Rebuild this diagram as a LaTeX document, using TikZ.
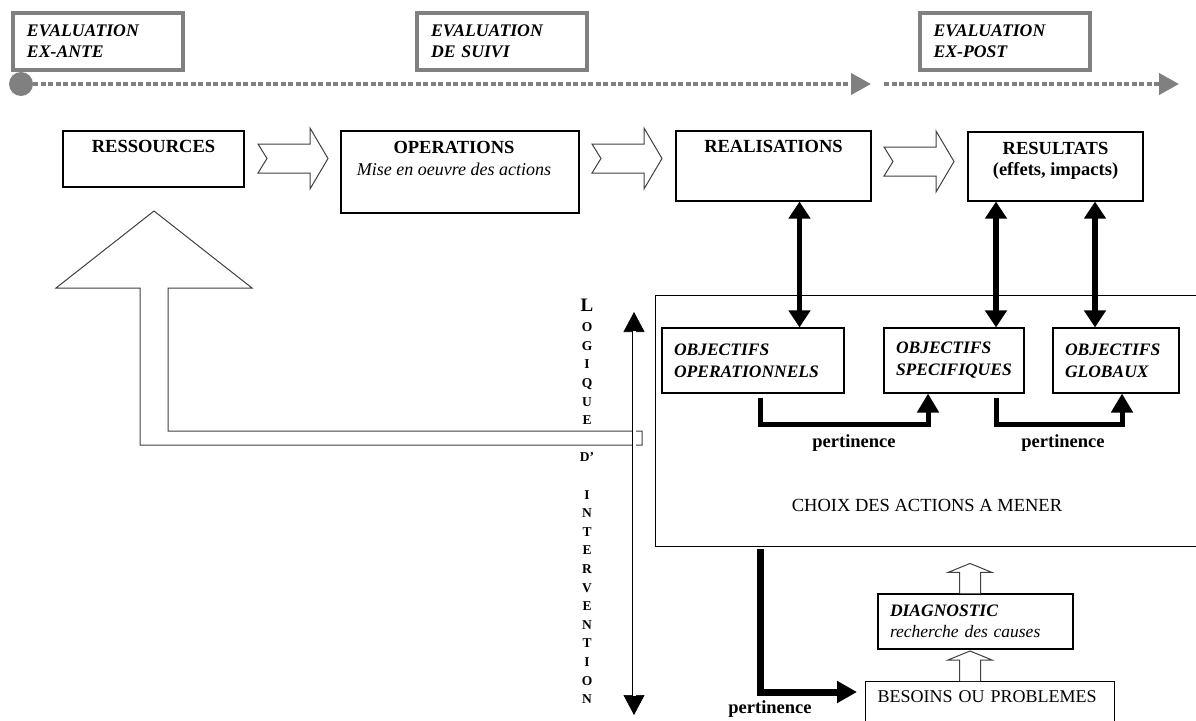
\documentclass[tikz,border=0pt]{standalone}
\usepackage{fontspec}
\setmainfont{Liberation Serif}
\usetikzlibrary{positioning,arrows.meta}
\definecolor{gris}{HTML}{808080}

\begin{document}
\begin{tikzpicture}[
  x=1pt, y=-1pt,
  txt/.style={inner sep=0pt, font=\fontsize{18}{22}\selectfont},
  evalbox/.style={draw=gris, line width=4pt, align=left, text width=142pt, inner xsep=14pt, minimum height=57pt, font=\fontsize{17.7}{21}\selectfont\bfseries\itshape},
  boite/.style={draw, line width=1.1pt},
  objbox/.style={boite, align=left, inner xsep=12pt, minimum height=65pt, font=\fontsize{17.5}{22}\selectfont\bfseries\itshape},
  noire/.style={line width=5.5pt, {Triangle[length=17pt,width=21pt]}-{Triangle[length=17pt,width=21pt]}},
  coude/.style={line width=5pt, -{Triangle[length=19pt,width=21pt]}},
  pointille/.style={draw=gris, line width=4pt, dash pattern=on 5pt off 2.5pt, -{Triangle[length=20pt,width=21pt]}},
  creux/.style={draw=black!75, line width=1pt, fill=white},
  chevron/.pic={\draw[creux] (0,0) -- (52,0) -- (52,-16) -- (70,14.5) -- (52,45) -- (52,29) -- (0,29) -- (9,14.5) -- cycle;},
  montee/.pic={\draw[creux] (-10.5,0) -- (-10.5,-21) -- (-22,-21) -- (0,-30) -- (22,-21) -- (10.5,-21) -- (10.5,0);}
]
  \useasboundingbox (0,0) rectangle (1196,720);

  \node[evalbox] (exante) at (98,41.5) {EVALUATION\\EX-ANTE};
  \node[evalbox] (suivi) at (502,41.5) {EVALUATION\\DE SUIVI};
  \node[evalbox] (expost) at (1004.5,41.5) {EVALUATION\\EX-POST};

  \node[circle, fill=gris, minimum size=24pt, inner sep=0pt] (debut) at (21,84) {};
  \coordinate (fin1) at (871,84);
  \coordinate (dep2) at (884,84);
  \coordinate (fin2) at (1179,84);
  \draw[pointille] (debut.east) -- (fin1);
  \draw[pointille] (dep2) -- (fin2);

  \node[boite, minimum width=181pt, minimum height=56pt] (ress) at (153.5,159) {};
  \node[boite, minimum width=238pt, minimum height=82pt] (oper) at (460,172) {};
  \node[boite, minimum width=195pt, minimum height=70pt] (real) at (773.5,166) {};
  \node[boite, minimum width=175pt, minimum height=69pt] (resu) at (1055.5,166.5) {};
  \node[txt, font=\fontsize{18.5}{22}\selectfont\bfseries, below=10pt of ress.north] (tress) {RESSOURCES};
  \node[txt, align=center, anchor=north] (toper) at (454,141) {{\fontsize{18.5}{22}\selectfont\bfseries OPERATIONS}\\{\itshape Mise en oeuvre des actions}};
  \node[txt, font=\fontsize{18.5}{22}\selectfont\bfseries, below=10pt of real.north] (treal) {REALISATIONS};
  \node[txt, font=\fontsize{18.5}{21}\selectfont\bfseries, align=center, below=11pt of resu.north] (tresu) {RESULTATS\\(effets, impacts)};

  \pic at (258,144) {chevron};
  \pic at (592,144) {chevron};
  \pic at (884,147) {chevron};

  \draw[creux] (642,431) -- (168,431) -- (168,288) -- (252,288) -- (154,211) -- (56,288) -- (140,288) -- (140,445) -- (642,445) -- cycle;

  \node[boite, anchor=north west, minimum width=580pt, minimum height=251pt, inner sep=0pt] (cadre) at (655,295) {};
  \node[txt, font=\fontsize{18.5}{22}\selectfont] (choix) at (927,505) {CHOIX DES ACTIONS A MENER};

  \node[objbox, text width=158pt] (objop) at (753,360.5) {OBJECTIFS\\OPERATIONNELS};
  \node[objbox, text width=116pt] (objspec) at (954,360.5) {OBJECTIFS\\SPECIFIQUES};
  \node[objbox, text width=102pt] (objglob) at (1116,360.5) {OBJECTIFS\\GLOBAUX};

  \draw[noire] ([xshift=26pt]real.south) -- ([xshift=26pt]real.south |- objop.north);
  \draw[noire] ([xshift=-59.5pt]resu.south) -- ([xshift=-59.5pt]resu.south |- objspec.north);
  \draw[noire] ([xshift=39.5pt]resu.south) -- ([xshift=39.5pt]resu.south |- objglob.north);

  \draw[coude] ([xshift=7pt,yshift=-4pt]objop.south) -- ++(0,27) -| ([xshift=-26pt]objspec.south);
  \draw[coude] ([xshift=42pt,yshift=-4pt]objspec.south) -- ++(0,27) -| ([xshift=6pt]objglob.south);
  \node[txt, font=\fontsize{18.5}{22}\selectfont\bfseries] (pert1) at (854,443) {pertinence};
  \node[txt, font=\fontsize{18.5}{22}\selectfont\bfseries] (pert2) at (1063,443) {pertinence};

  \node[boite, align=left, text width=171pt, inner xsep=12pt, minimum height=55pt, font=\fontsize{17.5}{21}\selectfont] (diag) at (975.5,621.5) {{\bfseries\itshape DIAGNOSTIC}\\{\itshape recherche des causes}};
  \node[boite, anchor=north west, align=left, text width=225pt, inner xsep=12pt, inner ysep=9pt, text depth=40pt, font=\fontsize{18}{22}\selectfont] (besoins) at (865,681) {\mbox{BESOINS OU PROBLEMES}};
  \pic at ([xshift=-5.5pt]diag.north) {montee};
  \pic at ([xshift=-5.5pt]diag.north |- besoins.north) {montee};

  \coordinate (pbout) at (857,692);
  \draw[line width=7pt, -{Triangle[length=20pt,width=21pt]}] ([xshift=105pt,yshift=-2pt]cadre.south west) |- (pbout);
  \node[txt, font=\fontsize{18.5}{22}\selectfont\bfseries] (pert3) at (770,709) {pertinence};

  \node[txt, font=\fontsize{19}{19}\selectfont\bfseries] (logL) at (587,305) {L};
  \node[txt, font=\fontsize{13.5}{18.6}\selectfont\bfseries, align=center, anchor=north] (logtxt) at (587,322.5) {O\\G\\I\\Q\\U\\E\\[18.6pt]D'\\[18.6pt]I\\N\\T\\E\\R\\V\\E\\N\\T\\I\\O\\N};
  \coordinate (haut) at (634,312);
  \coordinate (bas) at (634,715);
  \draw[line width=0.6pt, {Triangle[length=20pt,width=21pt]}-{Triangle[length=20pt,width=21pt]}] (haut) -- (bas);
  \draw[double, double distance=3pt, line width=0.8pt, shorten <=19pt, shorten >=19pt] (haut) -- (bas);
\end{tikzpicture}
\end{document}
